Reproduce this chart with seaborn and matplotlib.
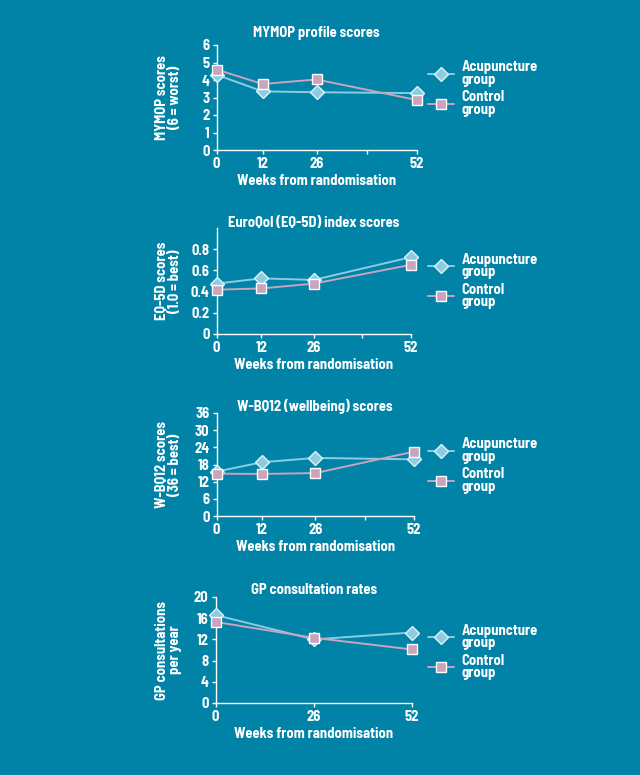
import numpy as np
import pandas as pd
import matplotlib
matplotlib.use("Agg")
import matplotlib.pyplot as plt
import seaborn as sns

# data
groups = ["Acupuncture\ngroup", "Control\ngroup"]

mymop_weeks = [0, 12, 26, 52]
mymop_acu = [4.3, 3.35, 3.3, 3.25]
mymop_ctl = [4.6, 3.77, 4.03, 2.86]

eq5d_weeks = [0, 12, 26, 52]
eq5d_acu = [0.475, 0.525, 0.51, 0.725]
eq5d_ctl = [0.418, 0.43, 0.475, 0.653]

wbq_weeks = [0, 12, 26, 52]
wbq_acu = [15.5, 18.8, 20.3, 19.8]
wbq_ctl = [14.8, 14.7, 15.0, 22.5]

gp_weeks = [0, 26, 52]
gp_acu = [16.6, 12.0, 13.3]
gp_ctl = [15.3, 12.3, 10.1]

bg = "#0083a6"
acu_col = "#8ccbe0"
ctl_col = "#c8a4be"
FS = 10.5

sns.set_theme(style="ticks")
plt.rcParams["font.family"] = ["Barlow Semi Condensed", "DejaVu Sans"]
plt.rcParams["font.weight"] = "bold"

fig = plt.figure(figsize=(6.4, 7.75), dpi=100, facecolor=bg)
W, H = 640, 775

def px_axes(left, right, top, bottom):
    return fig.add_axes([left / W, 1 - bottom / H, (right - left) / W, (bottom - top) / H])

# box = left, right, top, bottom in pixels; title_y / legend_y = centre in pixels
panels = [
    dict(box=(216.5, 416.5, 45, 150), title="MYMOP profile scores", title_y=32.5,
         ylabel="MYMOP scores\n(6 = worst)", weeks=mymop_weeks, acu=mymop_acu, ctl=mymop_ctl,
         ylim=(0, 6), yticks=[0, 1, 2, 3, 4, 5, 6], xticks=[0, 12, 26, 39, 52],
         xlabels=["0", "12", "26", "", "52"], legend_y=88.5),
    dict(box=(216.5, 411, 228, 334), title="EuroQol (EQ-5D) index scores", title_y=222.5,
         ylabel="EQ-5D scores\n(1.0 = best)", weeks=eq5d_weeks, acu=eq5d_acu, ctl=eq5d_ctl,
         ylim=(0, 1.0), yticks=[0, 0.2, 0.4, 0.6, 0.8], xticks=[0, 12, 26, 39, 52],
         xlabels=["0", "12", "26", "", "52"], legend_y=281),
    dict(box=(216.5, 414, 413, 516), title="W-BQ12 (wellbeing) scores", title_y=406.5,
         ylabel="W-BQ12 scores\n(36 = best)", weeks=wbq_weeks, acu=wbq_acu, ctl=wbq_ctl,
         ylim=(0, 36), yticks=[0, 6, 12, 18, 24, 30, 36], xticks=[0, 12, 26, 39, 52],
         xlabels=["0", "12", "26", "", "52"], legend_y=465.5),
    dict(box=(215.5, 412, 597, 703), title="GP consultation rates", title_y=590.5,
         ylabel="GP consultations\nper year", weeks=gp_weeks, acu=gp_acu, ctl=gp_ctl,
         ylim=(0, 20), yticks=[0, 4, 8, 12, 16, 20], xticks=[0, 26, 52],
         xlabels=["0", "26", "52"], legend_y=652),
]

for p in panels:
    left, right, top, bottom = p["box"]
    ax = px_axes(left, right, top, bottom)
    ax.set_facecolor("none")
    n = len(p["weeks"])
    df = pd.DataFrame({
        "week": p["weeks"] * 2,
        "value": p["acu"] + p["ctl"],
        "group": [groups[0]] * n + [groups[1]] * n,
    })
    sns.lineplot(data=df[df.group == groups[0]], x="week", y="value", ax=ax,
                 color=acu_col, lw=1.4, marker="D", markersize=7,
                 markerfacecolor=acu_col, markeredgecolor="#dff2f8", markeredgewidth=1,
                 label=groups[0], clip_on=False, zorder=3)
    sns.lineplot(data=df[df.group == groups[1]], x="week", y="value", ax=ax,
                 color=ctl_col, lw=1.4, marker="s", markersize=6.5,
                 markerfacecolor=ctl_col, markeredgecolor="white", markeredgewidth=1,
                 label=groups[1], clip_on=False, zorder=4)
    ax.set_xlim(0, 52)
    ax.set_ylim(*p["ylim"])
    ax.set_xticks(p["xticks"])
    ax.set_xticklabels(p["xlabels"])
    ax.set_yticks(p["yticks"])
    ax.set_yticklabels([f"{v:g}" for v in p["yticks"]])
    for s in ["top", "right"]:
        ax.spines[s].set_visible(False)
    for s in ["left", "bottom"]:
        ax.spines[s].set_color("white")
        ax.spines[s].set_linewidth(1)
    ax.tick_params(colors="white", labelsize=FS, length=3, width=1, pad=2)
    for t in ax.get_xticklabels() + ax.get_yticklabels():
        t.set_fontweight("bold")
    ax.set_xlabel("Weeks from randomisation", color="white", fontsize=FS,
                  fontweight="bold", labelpad=2)
    ax.set_ylabel(p["ylabel"], color="white", fontsize=FS, fontweight="bold",
                  linespacing=0.85)
    ax.yaxis.set_label_coords((181.5 - left) / (right - left), 0.5)
    fig.text((left + right) / 2 / W, 1 - p["title_y"] / H, p["title"], color="white",
             fontsize=FS, fontweight="bold", ha="center", va="center")
    leg = ax.legend(loc="center left", bbox_to_anchor=(428 / W, 1 - p["legend_y"] / H),
                    bbox_transform=fig.transFigure, frameon=False,
                    handlelength=1.8, labelspacing=0.25, fontsize=FS, borderpad=0,
                    labelcolor="white", borderaxespad=0, handletextpad=0.5)
    for t in leg.get_texts():
        t.set_fontweight("bold")
        t.set_linespacing(0.85)

fig.savefig("out.png", dpi=100, facecolor=bg)
